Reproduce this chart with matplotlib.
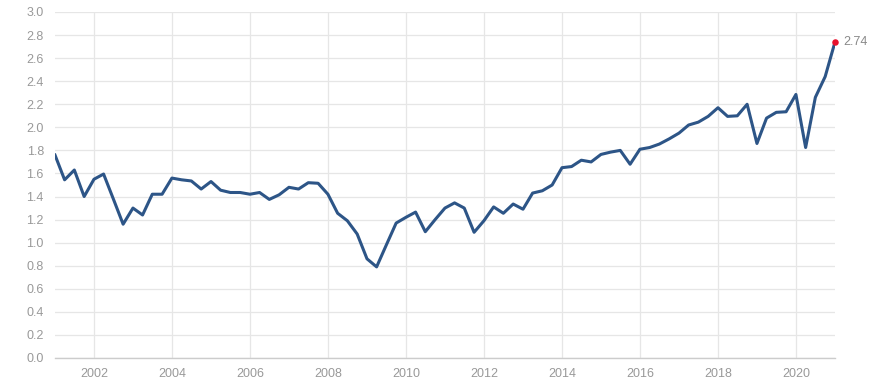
import matplotlib
matplotlib.use("Agg")
import matplotlib.pyplot as plt
import pandas as pd

plt.rcParams['font.family'] = ['Liberation Sans', 'DejaVu Sans']

start_quarter = "2001Q1"
values = [
    1.76, 1.545, 1.63, 1.40,
    1.55, 1.595, 1.38, 1.16,
    1.30, 1.24, 1.42, 1.42,
    1.56, 1.545, 1.535, 1.465,
    1.53, 1.455, 1.435, 1.435,
    1.42, 1.435, 1.375, 1.415,
    1.48, 1.465, 1.52, 1.515,
    1.42, 1.255, 1.19, 1.075,
    0.86, 0.79, 0.98, 1.17,
    1.22, 1.265, 1.095, 1.20,
    1.30, 1.345, 1.30, 1.09,
    1.19, 1.31, 1.255, 1.335,
    1.29, 1.43, 1.45, 1.50,
    1.65, 1.66, 1.715, 1.70,
    1.765, 1.785, 1.80, 1.68,
    1.81, 1.825, 1.855, 1.90,
    1.95, 2.02, 2.045, 2.095,
    2.17, 2.095, 2.10, 2.20,
    1.86, 2.08, 2.13, 2.135,
    2.285, 1.825, 2.26, 2.44,
    2.74,
]
dates = pd.period_range(start_quarter, periods=len(values), freq="Q").to_timestamp()
tick_years = list(range(2002, 2021, 2))
y_ticks = [round(0.2 * i, 1) for i in range(16)]

W, H = 890, 384
fig = plt.figure(figsize=(W / 100, H / 100), dpi=100)
ax = fig.add_axes([55 / W, (H - 358) / H, (835 - 55) / W, (358 - 12) / H])

line_color = "#2d5587"
ax.plot(dates, values, color=line_color, lw=2.2, solid_joinstyle="round", zorder=3)
ax.scatter([dates[-1]], [values[-1]], color="#e8112d", s=22, zorder=4, linewidths=0, clip_on=False)
ax.annotate(f"{values[-1]:.2f}", (dates[-1], values[-1]), xytext=(6, 0), textcoords="offset points",
            va="center", ha="left", color="#888888", fontsize=9, annotation_clip=False)

ax.set_xlim(pd.Timestamp("2001-01-01"), pd.Timestamp("2021-01-01"))
ax.set_ylim(0, 3.0)
ax.set_yticks(y_ticks)
ax.set_yticklabels([f"{t:.1f}" for t in y_ticks])
ax.set_xticks([pd.Timestamp(f"{y}-01-01") for y in tick_years])
ax.set_xticklabels([str(y) for y in tick_years])

ax.grid(True, color="#e6e6e6", lw=0.9)
ax.set_axisbelow(True)
for s in ["top", "right", "left"]:
    ax.spines[s].set_visible(False)
ax.spines["bottom"].set_color("#cccccc")
ax.spines["bottom"].set_linewidth(1.0)
ax.tick_params(axis="both", length=0, colors="#999999", labelsize=9)
ax.tick_params(axis="y", pad=8)
ax.tick_params(axis="x", pad=7)

fig.savefig("out.png", dpi=100)
